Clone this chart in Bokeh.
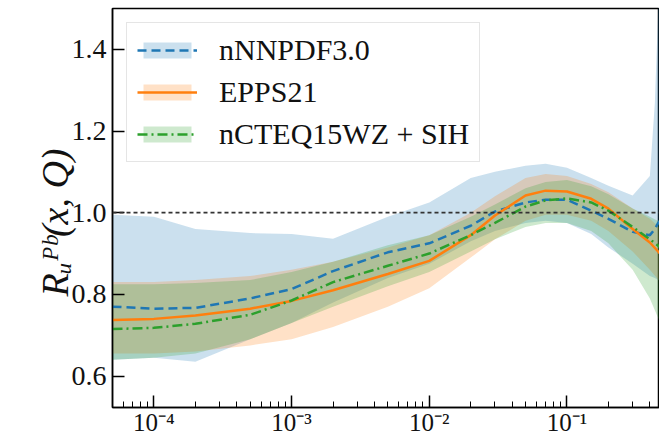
import math
from bokeh.plotting import figure
from bokeh.models import (FixedTicker, Span, Label, Legend, LegendItem, Range1d,
                          PrintfTickFormatter)
from bokeh.embed import file_html
from bokeh.resources import INLINE

# ---- data ----
x_nn = [5e-5, 1e-4, 2e-4, 5e-4, 1e-3, 2e-3, 5e-3, 1e-2, 2e-2, 3e-2, 5e-2, 7e-2,
        1e-1, 1.5e-1, 2e-1, 3e-1, 4e-1, 4.35e-1, 4.6e-1, 5.2e-1]
nn_c = [0.77, 0.765, 0.767, 0.79, 0.813, 0.857, 0.903, 0.925, 0.968, 1.003, 1.025, 1.032,
        1.032, 1.005, 0.985, 0.953, 0.945, 0.96, 0.975, 1.0]
nn_hi = [0.995, 0.99, 0.96, 0.95, 0.948, 0.936, 0.99, 1.025, 1.085, 1.10, 1.115, 1.12,
         1.11, 1.085, 1.066, 1.042, 1.09, 1.27, 1.5, 1.6]
nn_lo = [0.64, 0.645, 0.635, 0.69, 0.73, 0.78, 0.84, 0.875, 0.93, 0.955, 0.975, 0.98,
         0.975, 0.948, 0.915, 0.875, 0.845, 0.84, 0.835, 0.83]

x_ep = [5e-5, 1e-4, 2e-4, 5e-4, 1e-3, 2e-3, 5e-3, 1e-2, 2e-2, 3e-2, 5e-2, 7e-2,
        1e-1, 1.5e-1, 2e-1, 3e-1, 4e-1, 5.2e-1]
ep_c = [0.737, 0.74, 0.748, 0.765, 0.784, 0.81, 0.85, 0.882, 0.945, 0.993, 1.042, 1.054,
        1.052, 1.034, 1.01, 0.96, 0.927, 0.885]
ep_hi = [0.83, 0.83, 0.835, 0.845, 0.86, 0.88, 0.915, 0.945, 1.0, 1.04, 1.085, 1.095,
         1.09, 1.07, 1.05, 1.01, 0.985, 0.95]
ep_lo = [0.655, 0.655, 0.66, 0.675, 0.69, 0.72, 0.77, 0.815, 0.89, 0.935, 0.98, 0.995,
         0.995, 0.98, 0.955, 0.905, 0.86, 0.815]

x_ct = [5e-5, 1e-4, 2e-4, 5e-4, 1e-3, 2e-3, 5e-3, 1e-2, 2e-2, 3e-2, 5e-2, 7e-2,
        1e-1, 1.5e-1, 2e-1, 3e-1, 4e-1, 5.2e-1]
ct_c = [0.715, 0.718, 0.728, 0.75, 0.785, 0.83, 0.87, 0.90, 0.945, 0.975, 1.015, 1.03,
        1.035, 1.025, 1.005, 0.965, 0.935, 0.905]
ct_hi = [0.825, 0.825, 0.828, 0.835, 0.855, 0.88, 0.92, 0.945, 0.99, 1.02, 1.06, 1.075,
         1.08, 1.065, 1.045, 1.01, 0.99, 0.97]
ct_lo = [0.64, 0.645, 0.655, 0.69, 0.73, 0.77, 0.82, 0.855, 0.905, 0.935, 0.965, 0.975,
         0.975, 0.955, 0.925, 0.86, 0.79, 0.70]

labels = ["nNNPDF3.0", "EPPS21", "nCTEQ15WZ + SIH"]
colors = ["#1f77b4", "#ff7f0e", "#2ca02c"]
x_major = [1e-4, 1e-3, 1e-2, 1e-1]
x_major_labels = ["10\u207b\u2074", "10\u207b\u00b3", "10\u207b\u00b2", "10\u207b\u00b9"]
y_major = [0.6, 0.8, 1.0, 1.2, 1.4]
y_title = "R\u1d64\u1d3e\u1d47(x, Q)"

SERIF = "Liberation Serif"
INK = "#111111"

p = figure(width=659, height=438, x_axis_type="log",
           x_range=Range1d(5e-5, 0.47), y_range=Range1d(0.523, 1.5),
           output_backend="svg", toolbar_location=None,
           min_border_left=112, min_border_right=0, min_border_top=8,
           min_border_bottom=28)
p.grid.visible = False
p.outline_line_color = "black"
p.outline_line_width = 1.5

bands = []
for xs, lo, hi, c in [(x_nn, nn_lo, nn_hi, colors[0]), (x_ep, ep_lo, ep_hi, colors[1]),
                      (x_ct, ct_lo, ct_hi, colors[2])]:
    bands.append(p.varea(x=xs, y1=lo, y2=hi, fill_color=c, fill_alpha=0.23))

p.add_layout(Span(location=1.0, dimension="width", line_color="#333333",
                  line_dash="4 3", line_width=1.8))

l_nn = p.line(x_nn, nn_c, line_color=colors[0], line_width=2.5, line_dash="9 5")
l_ep = p.line(x_ep, ep_c, line_color=colors[1], line_width=2.5)
l_ct = p.line(x_ct, ct_c, line_color=colors[2], line_width=2.5, line_dash="10 4 2 4")

legend = Legend(items=[LegendItem(label=labels[0], renderers=[bands[0], l_nn]),
                       LegendItem(label=labels[1], renderers=[bands[1], l_ep]),
                       LegendItem(label=labels[2], renderers=[bands[2], l_ct])],
                location="top_left", margin=14, padding=10, spacing=8,
                glyph_width=60, glyph_height=20, label_standoff=22,
                label_text_font=SERIF, label_text_font_size="30px",
                label_text_color=INK,
                border_line_color="#cccccc", border_line_width=1.5,
                background_fill_alpha=0.85)
p.add_layout(legend)

# axes
xa = p.xaxis[0]
xa.ticker = FixedTicker(ticks=x_major,
                        minor_ticks=[m * 10.0 ** e for e in range(-5, 0) for m in range(2, 10)])
xa.major_label_overrides = {v: s for v, s in zip(x_major, x_major_labels)}
xa.major_label_text_font_size = "25px"
xa.major_label_standoff = 1
ya = p.yaxis[0]
ya.ticker = FixedTicker(ticks=y_major)
ya.formatter = PrintfTickFormatter(format="%.1f")
ya.minor_tick_line_color = None
for ax in (xa, ya):
    ax.axis_line_color = "black"
    ax.axis_line_width = 1.5
    ax.major_tick_in = 12
    ax.major_tick_out = 0
    ax.major_tick_line_color = "black"
    ax.major_tick_line_width = 1.5
    ax.minor_tick_in = 6
    ax.minor_tick_out = 0
    ax.major_label_text_font = SERIF
    ax.major_label_text_color = INK
xa.minor_tick_line_color = "black"
ya.major_label_text_font_size = "28px"
ya.major_label_standoff = 6

# y-axis title, rotated, in the left side panel
p.add_layout(Label(x=54, y=296, x_units="canvas", y_units="canvas", angle=math.pi / 2,
                   text=y_title, text_font=SERIF, text_font_size="38px",
                   text_font_style="italic", text_color=INK, text_align="left",
                   text_baseline="alphabetic"), "left")

open("out.html", "w").write(file_html(p, INLINE))
